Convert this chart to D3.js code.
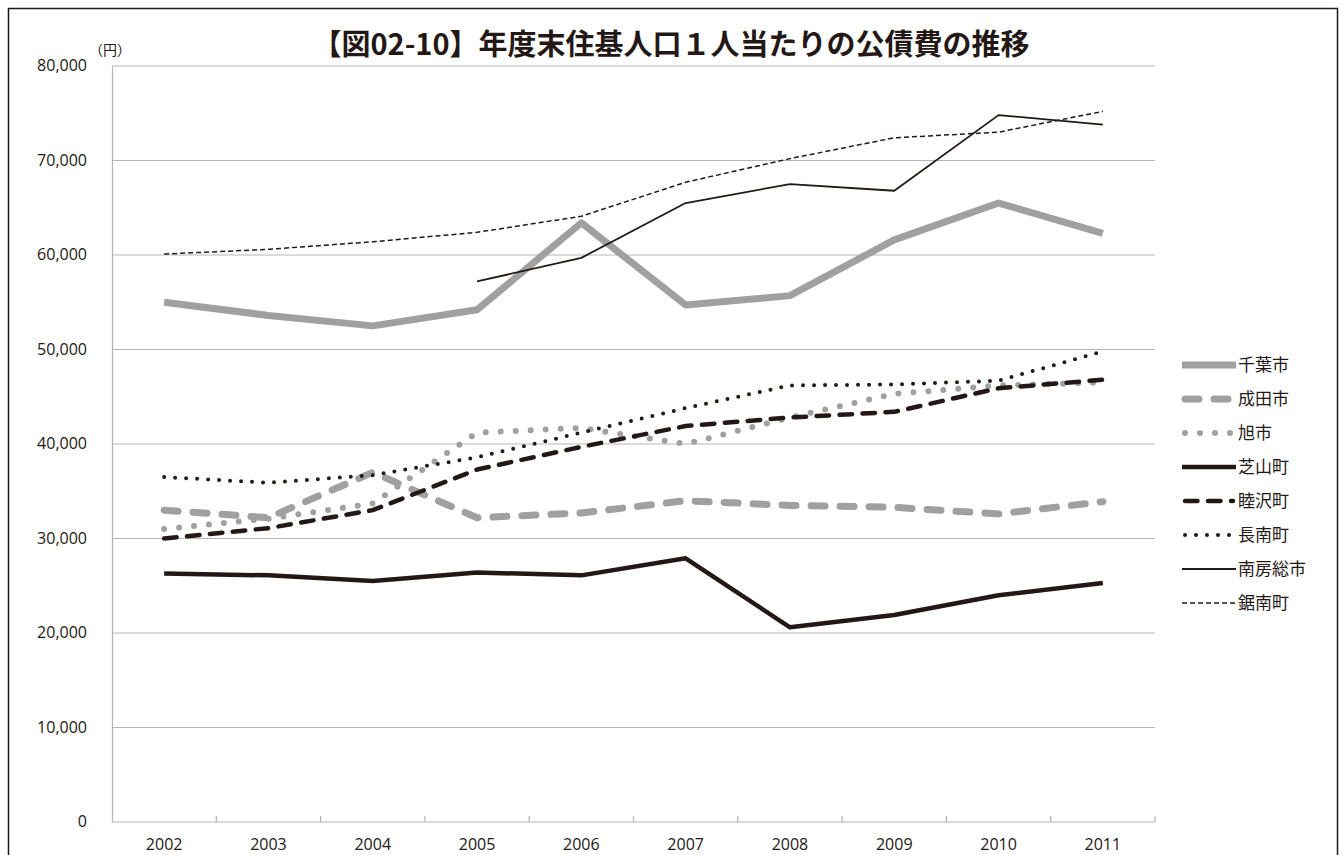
<!DOCTYPE html>
<html>
<head>
<meta charset="utf-8">
<script src="https://cdn.jsdelivr.net/npm/d3@7"></script>
<style>
  body { margin: 0; background: #fff; }
  svg { display: block; }
</style>
</head>
<body>
<div id="chart"></div>
<script>
// data
const years = ['2002','2003','2004','2005','2006','2007','2008','2009','2010','2011'];
const yTicks = [0, 10000, 20000, 30000, 40000, 50000, 60000, 70000, 80000];

const chiba     = [55000, 53600, 52500, 54200, 63400, 54700, 55700, 61600, 65500, 62300];
const narita    = [33000, 32200, 37000, 32200, 32700, 34000, 33500, 33300, 32600, 33900];
const asahi     = [31000, 32100, 33700, 41200, 41700, 40000, 42800, 45300, 46200, 46500];
const shibayama = [26300, 26100, 25500, 26400, 26100, 27900, 20600, 21900, 24000, 25300];
const mutsuzawa = [30000, 31100, 33000, 37300, 39700, 41900, 42800, 43400, 45900, 46800];
const chonan    = [36500, 35900, 36700, 38600, 41200, 43800, 46200, 46300, 46700, 49800];
const minamiboso= [null, null, null, 57200, 59700, 65500, 67500, 66800, 74800, 73800];
const kyonan    = [60100, 60600, 61400, 62400, 64100, 67700, 70200, 72400, 73000, 75200];

const seriesNames = ['千葉市','成田市','旭市','芝山町','睦沢町','長南町','南房総市','鋸南町'];
const seriesValues = [chiba, narita, asahi, shibayama, mutsuzawa, chonan, minamiboso, kyonan];

const grey = '#a0a0a0', dark = '#231815';
const styles = [
  {color: grey, width: 7,   dash: null,        cap: 'butt'},
  {color: grey, width: 7,   dash: '14,15',     cap: 'round'},
  {color: grey, width: 6,   dash: '0,15',      cap: 'round'},
  {color: dark, width: 4.5, dash: null,        cap: 'butt'},
  {color: dark, width: 4.5, dash: '12.5,10.5', cap: 'round'},
  {color: dark, width: 4,   dash: '0,11',      cap: 'round'},
  {color: dark, width: 1.8, dash: null,        cap: 'butt'},
  {color: dark, width: 1.5, dash: '5,3',       cap: 'butt'}
];

const W = 1344, H = 855;
const plot = {left: 112, right: 1155, top: 66, bottom: 822};
const cjk = '"Noto Sans CJK JP", "Noto Sans", sans-serif';
const num = '"Open Sans", "Noto Sans", sans-serif';

const svg = d3.select('#chart').append('svg')
  .attr('width', W).attr('height', H);

// outer frame
svg.append('rect')
  .attr('x', 8.5).attr('y', 8.5)
  .attr('width', 1329).attr('height', 860)
  .attr('fill', 'none').attr('stroke', dark).attr('stroke-width', 1.5);

const x = d3.scaleBand().domain(years).range([plot.left, plot.right]);
const y = d3.scaleLinear().domain([0, 80000]).range([plot.bottom, plot.top]);

// gridlines
svg.append('g')
  .selectAll('line')
  .data(yTicks.filter(d => d > 0))
  .join('line')
    .attr('x1', plot.left).attr('x2', plot.right)
    .attr('y1', d => y(d)).attr('y2', d => y(d))
    .attr('stroke', '#b5b5b5').attr('stroke-width', 1.2);

// y axis
const yAxis = svg.append('g')
  .attr('transform', `translate(${plot.left},0)`)
  .call(d3.axisLeft(y).tickValues(yTicks).tickSize(0).tickPadding(25)
    .tickFormat(d3.format(',')));
yAxis.select('.domain').attr('stroke', '#b5b5b5').attr('stroke-width', 1.2);
yAxis.selectAll('text')
  .attr('font-family', num).attr('font-size', 16).attr('fill', dark)
  .attr('dy', '0.3em');

// x axis (ticks between categories, pointing up)
svg.append('line')
  .attr('x1', plot.left).attr('x2', plot.right)
  .attr('y1', plot.bottom).attr('y2', plot.bottom)
  .attr('stroke', '#b5b5b5').attr('stroke-width', 1.2);
svg.append('g')
  .selectAll('line')
  .data(years.slice(1).concat(['end']))
  .join('line')
    .attr('x1', d => d === 'end' ? plot.right : x(d))
    .attr('x2', d => d === 'end' ? plot.right : x(d))
    .attr('y1', plot.bottom).attr('y2', plot.bottom - 6)
    .attr('stroke', '#b5b5b5').attr('stroke-width', 1.2);
svg.append('g')
  .selectAll('text')
  .data(years)
  .join('text')
    .attr('x', d => x(d) + x.bandwidth() / 2)
    .attr('y', 850)
    .attr('text-anchor', 'middle')
    .attr('font-family', num).attr('font-size', 16).attr('fill', dark)
    .text(d => d);

// unit
svg.append('text')
  .attr('x', 110).attr('y', 55)
  .attr('text-anchor', 'middle')
  .attr('font-family', cjk).attr('font-size', 14).attr('fill', dark)
  .text('（円）');

// title
svg.append('text')
  .attr('x', 671).attr('y', 55)
  .attr('text-anchor', 'middle')
  .attr('font-family', cjk).attr('font-size', 29).attr('font-weight', 'bold')
  .attr('fill', dark)
  .text('【図02-10】年度末住基人口１人当たりの公債費の推移');

// lines
const line = d3.line()
  .defined(d => d.v != null)
  .x(d => x(d.year) + x.bandwidth() / 2)
  .y(d => y(d.v));

svg.append('g')
  .selectAll('path')
  .data(seriesValues.map((vals, i) => ({i, pts: vals.map((v, j) => ({year: years[j], v}))})))
  .join('path')
    .attr('d', d => line(d.pts))
    .attr('fill', 'none')
    .attr('stroke', d => styles[d.i].color)
    .attr('stroke-width', d => styles[d.i].width)
    .attr('stroke-dasharray', d => styles[d.i].dash)
    .attr('stroke-linecap', d => styles[d.i].cap)
    .attr('stroke-linejoin', 'round');

// legend
const legend = svg.append('g')
  .selectAll('g')
  .data(seriesNames)
  .join('g')
    .attr('transform', (d, i) => `translate(1182, ${365 + i * 34})`);
legend.append('line')
  .attr('x1', (d, i) => styles[i].cap === 'round' ? 3 : 0)
  .attr('x2', (d, i) => styles[i].cap === 'round' ? 51 : 54)
  .attr('y1', 0).attr('y2', 0)
  .attr('stroke', (d, i) => styles[i].color)
  .attr('stroke-width', (d, i) => styles[i].width)
  .attr('stroke-dasharray', (d, i) => styles[i].dash)
  .attr('stroke-linecap', (d, i) => styles[i].cap);
legend.append('text')
  .attr('x', 56).attr('y', 6)
  .attr('font-family', cjk).attr('font-size', 17).attr('fill', dark)
  .text(d => d);
</script>
</body>
</html>
